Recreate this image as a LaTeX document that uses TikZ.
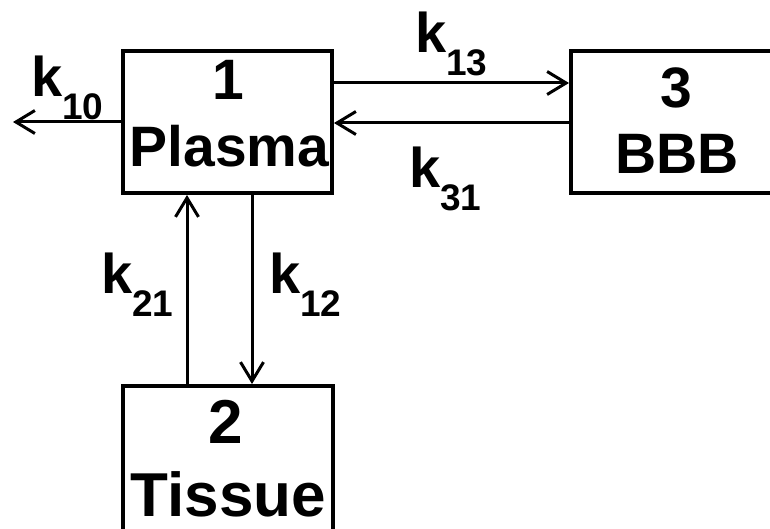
\documentclass[tikz,border=0pt]{standalone}
\usepackage{fontspec}
\setmainfont{Liberation Sans}
\usetikzlibrary{arrows.meta}
\newcommand{\ksubs}[1]{\raisebox{-23pt}{\fontsize{37}{37}\selectfont #1}}
\begin{document}
\begin{tikzpicture}[x=1pt,y=-1pt,
  box/.style={draw, line width=4pt, rectangle, inner sep=0pt},
  lbl/.style={anchor=base, inner sep=0pt, font=\fontsize{57}{57}\selectfont\bfseries},
  lblbig/.style={anchor=base, inner sep=0pt, font=\fontsize{62}{62}\selectfont\bfseries},
  klbl/.style={anchor=base west, inner sep=0pt, font=\fontsize{56}{56}\selectfont\bfseries},
  flow/.style={line width=3pt, -{Straight Barb[length=19pt,width=23pt]}}]
\useasboundingbox (0,0) rectangle (770,529);
\clip (0,0) rectangle (770,529);
\fill[white] (0,0) rectangle (770,529);
% boxes
\node[box, minimum width=209pt, minimum height=142pt] (b1) at (227.5,122) {};
\node[box, minimum width=219pt, minimum height=142pt] (b3) at (680.5,122) {};
\node[box, minimum width=210pt, minimum height=154pt] (b2) at (227.5,463) {};
% box texts
\node[lbl] (t1a) at (228,100) {1};
\node[lbl] (t1b) at (229.5,167) {Plasma};
\node[lbl] (t3a) at (676,108) {3};
\node[lbl] (t3b) at (677,174) {BBB};
\node[lblbig] (t2a) at (226,443) {2};
\node[lblbig] (t2b) at (228.5,516) {Tissue};
% rate labels
\node[klbl] (k10) at (31,97) {k\ksubs{10}};
\node[klbl] (k13) at (415,53) {k\ksubs{13}};
\node[klbl] (k31) at (409,188) {k\ksubs{31}};
\node[klbl] (k21) at (101,293) {k\ksubs{21}};
\node[klbl] (k12) at (269,293) {k\ksubs{12}};
% connectors
\coordinate (e10) at (13,122);
\draw[flow] (b1.west) -- (e10);
\draw[flow] ([yshift=39pt]b1.east) -- ([yshift=39pt]b3.west);
\draw[flow] ([yshift=-1pt]b3.west) -- ([yshift=-1pt]b1.east);
\draw[flow] ([xshift=-40.5pt]b2.north) -- ([xshift=-40.5pt]b1.south);
\draw[flow] ([xshift=24.5pt]b1.south) -- ([xshift=24.5pt]b2.north);
\end{tikzpicture}
\end{document}
